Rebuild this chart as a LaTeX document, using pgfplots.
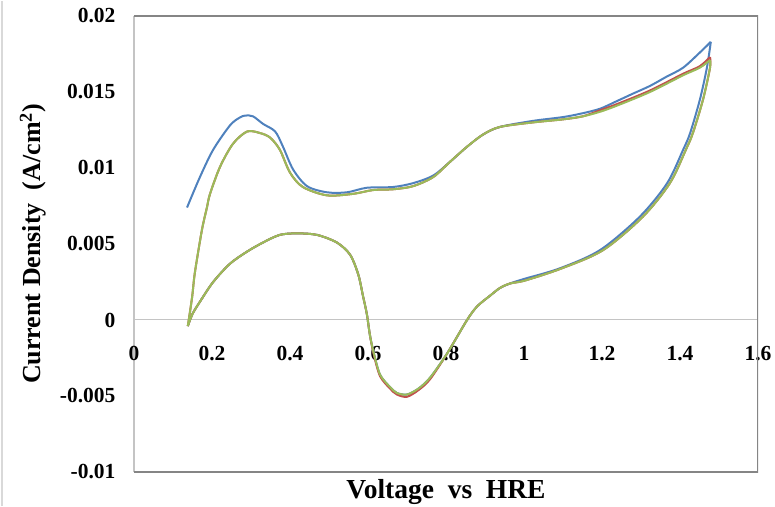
\documentclass[border=0pt]{standalone}
\usepackage{pgfplots}
\pgfplotsset{compat=1.18}
\usepackage{fontspec}
\setmainfont{Liberation Serif}

\definecolor{cvblue}{HTML}{4F81BD}
\definecolor{cvred}{HTML}{C0504D}
\definecolor{cvgreen}{HTML}{9BBB59}
\definecolor{framedark}{HTML}{858585}
\definecolor{framelight}{HTML}{C4C4C4}

\begin{document}
\begin{tikzpicture}
\begin{axis}[
  scale only axis, width=624bp, height=456bp,
  xmin=0, xmax=1.6, ymin=-0.01, ymax=0.02,
  axis x line*=middle, axis y line*=left,
  x axis line style={draw=framelight, line width=1bp},
  y axis line style={draw=framelight, line width=1.2bp},
  hide obscured x ticks=false, hide obscured y ticks=false,
  scaled y ticks=false, scaled x ticks=false,
  major tick length=0pt,
  xtick={0,0.2,0.4,0.6,0.8,1,1.2,1.4,1.6},
  xticklabels={0,0.2,0.4,0.6,0.8,1,1.2,1.4,1.6},
  ytick={-0.01,-0.005,0,0.005,0.01,0.015,0.02},
  yticklabels={-0.01,-0.005,0,0.005,0.01,0.015,0.02},
  tick label style={font=\fontsize{21.5bp}{24bp}\selectfont\bfseries},
  xticklabel style={anchor=north, yshift=-23bp},
  yticklabel style={anchor=east, xshift=-15bp},
  xlabel={Voltage\ \ vs\ \ HRE},
  ylabel={Current Density\ \ (A/cm\textsuperscript{2})},
  every axis x label/.style={at={(rel axis cs:0.5,0)}, anchor=north, yshift=-4bp,
    font=\fontsize{27.5bp}{30bp}\selectfont\bfseries},
  every axis y label/.style={at={(rel axis cs:0,0.5)}, xshift=-84bp, rotate=90, anchor=south,
    font=\fontsize{26bp}{30bp}\selectfont\bfseries},
  every axis plot/.append style={line width=2bp, smooth},
]
% cycle 1: anodic scan
\addplot[cvblue] coordinates {
 (0.136,0.0074) (0.169,0.0094) (0.203,0.0112) (0.246,0.0128) (0.270,0.0133)
 (0.285,0.01345) (0.305,0.0134) (0.331,0.0129) (0.362,0.0124) (0.382,0.0114)
 (0.408,0.0099) (0.444,0.0088) (0.495,0.0084) (0.546,0.0084) (0.597,0.0087)
 (0.664,0.00875) (0.715,0.0090) (0.767,0.0095) (0.810,0.0104) (0.854,0.0114)
 (0.895,0.0122) (0.938,0.0127) (1.023,0.0131) (1.100,0.01335) (1.150,0.0136)
 (1.195,0.0139) (1.238,0.0144) (1.280,0.0149) (1.323,0.0154) (1.365,0.0160)
 (1.408,0.0166) (1.451,0.0176) (1.479,0.0183)
};
% cycle 1: cathodic scan
\addplot[cvblue] coordinates {
 (1.479,0.0183) (1.469,0.0166) (1.451,0.0145) (1.426,0.0123) (1.408,0.0112)
 (1.367,0.0090) (1.297,0.0068) (1.195,0.0046) (1.092,0.0034) (1.000,0.0027)
 (0.964,0.0024)
 (0.938,0.0021) (0.913,0.0016) (0.880,0.0009) (0.854,0.0000) (0.803,-0.0022)
 (0.759,-0.0038) (0.730,-0.0045) (0.700,-0.0049) (0.674,-0.0048) (0.656,-0.0044)
 (0.631,-0.0036) (0.615,-0.0022) (0.605,-0.0010) (0.597,0.0004) (0.587,0.0016)
 (0.575,0.0030) (0.554,0.0043) (0.520,0.0051) (0.469,0.0056) (0.418,0.0057)
 (0.374,0.0056) (0.331,0.0051) (0.290,0.0045) (0.246,0.0037) (0.203,0.0025)
 (0.169,0.0012) (0.150,0.0004) (0.138,-0.0004)
};
% cycle 2: anodic scan
\addplot[cvred] coordinates {
 (0.138,-0.0004) (0.149,0.0015) (0.156,0.0031) (0.174,0.0059) (0.187,0.0074)
 (0.195,0.0083) (0.221,0.0101) (0.254,0.0116) (0.290,0.0124) (0.323,0.0123)
 (0.349,0.0120) (0.374,0.0112) (0.400,0.0097) (0.433,0.00875) (0.495,0.0082)
 (0.562,0.0083) (0.613,0.00855) (0.664,0.0086) (0.715,0.0088) (0.767,0.0094)
 (0.810,0.0104) (0.854,0.0114) (0.895,0.0122) (0.938,0.0127) (1.023,0.0130)
 (1.100,0.0132) (1.151,0.0134) (1.195,0.0138) (1.238,0.0142) (1.323,0.0151)
 (1.408,0.0162) (1.451,0.0167) (1.477,0.0173)
};
% cycle 2: cathodic scan
\addplot[cvred] coordinates {
 (1.477,0.0173) (1.477,0.0166) (1.459,0.0145) (1.433,0.0123) (1.415,0.0112)
 (1.374,0.0090) (1.305,0.0068) (1.203,0.0046) (1.097,0.0034) (1.003,0.0026)
 (0.964,0.0024)
 (0.938,0.0021) (0.913,0.0016) (0.880,0.0009) (0.854,0.0000) (0.803,-0.0022)
 (0.759,-0.0039) (0.730,-0.0046) (0.700,-0.00505) (0.674,-0.0049) (0.656,-0.0045)
 (0.631,-0.0037) (0.615,-0.0023) (0.605,-0.0010) (0.597,0.0004) (0.587,0.0016)
 (0.575,0.0030) (0.554,0.0043) (0.520,0.0051) (0.469,0.0056) (0.418,0.0057)
 (0.374,0.0056) (0.331,0.0051) (0.290,0.0045) (0.246,0.0037) (0.203,0.0025)
 (0.169,0.0012) (0.150,0.0004) (0.138,-0.0004)
};
% cycle 3: anodic scan
\addplot[cvgreen] coordinates {
 (0.138,-0.0004) (0.149,0.0015) (0.156,0.0031) (0.174,0.0059) (0.187,0.0074)
 (0.195,0.0083) (0.221,0.0101) (0.254,0.0116) (0.290,0.0124) (0.323,0.0123)
 (0.349,0.0120) (0.374,0.0112) (0.400,0.0097) (0.433,0.00875) (0.495,0.0082)
 (0.562,0.0083) (0.613,0.00855) (0.664,0.0086) (0.715,0.0088) (0.767,0.0094)
 (0.810,0.0104) (0.854,0.0114) (0.895,0.0122) (0.938,0.0127) (1.023,0.0130)
 (1.100,0.0132) (1.151,0.0134) (1.195,0.0137) (1.238,0.0141) (1.323,0.0150)
 (1.408,0.0161) (1.451,0.0166) (1.477,0.0171)
};
% cycle 3: cathodic scan
\addplot[cvgreen] coordinates {
 (1.477,0.0171) (1.477,0.0166) (1.459,0.0145) (1.433,0.0123) (1.415,0.0112)
 (1.374,0.0090) (1.305,0.0068) (1.203,0.0046) (1.097,0.0034) (1.003,0.0026)
 (0.964,0.0024)
 (0.938,0.0021) (0.913,0.0016) (0.880,0.0009) (0.854,0.0000) (0.803,-0.0022)
 (0.759,-0.0038) (0.730,-0.0045) (0.700,-0.0049) (0.674,-0.0048) (0.656,-0.0044)
 (0.631,-0.0036) (0.615,-0.0022) (0.605,-0.0010) (0.597,0.0004) (0.587,0.0016)
 (0.575,0.0030) (0.554,0.0043) (0.520,0.0051) (0.469,0.0056) (0.418,0.0057)
 (0.374,0.0056) (0.331,0.0051) (0.290,0.0045) (0.246,0.0037) (0.203,0.0025)
 (0.169,0.0012) (0.150,0.0004) (0.138,-0.0004)
};
% plot-area frame (top, right, bottom)
\draw[framedark, line width=1.2bp] (rel axis cs:0,1) -- (rel axis cs:1,1)
  -- (rel axis cs:1,0) -- (rel axis cs:0,0);
\coordinate (plotSW) at (rel axis cs:0,0);
\end{axis}
\pgfresetboundingbox
\path ([shift={(-134bp,-34bp)}]plotSW) rectangle ++(775bp,505bp);
\draw[gray!30, line width=2bp] ([shift={(-131.5bp,-34bp)}]plotSW) -- ++(0,505bp);
\end{tikzpicture}
\end{document}
